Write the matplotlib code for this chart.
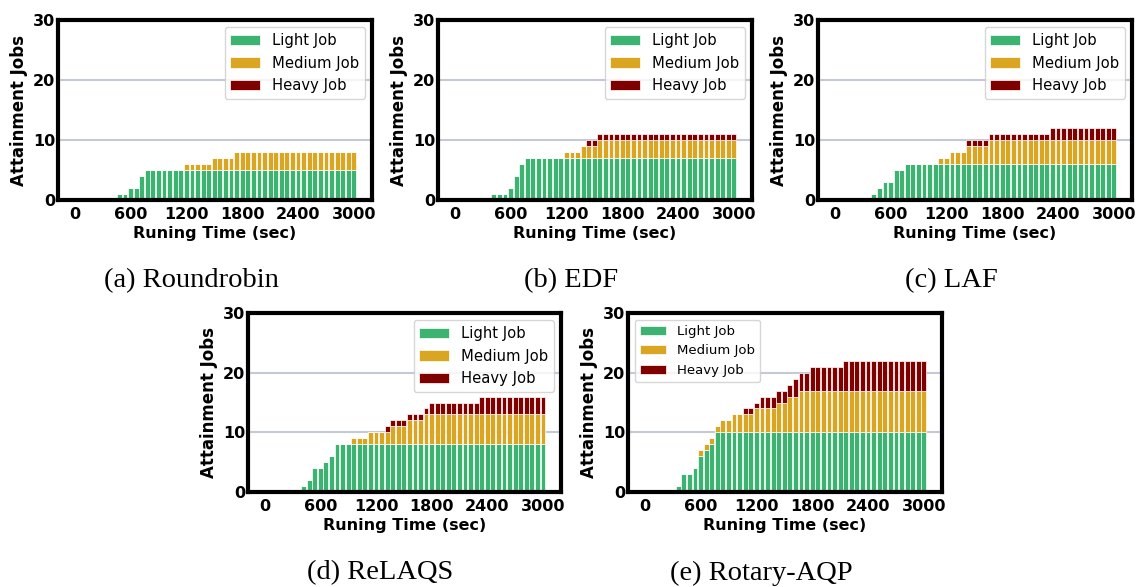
import numpy as np
import matplotlib.pyplot as plt

# sampling instants (sec)
times = np.arange(60, 3001, 60)

# attained jobs per scheduler, rows of 10 samples
rr_light = [0, 0, 0, 0, 0, 0, 0, 1, 1, 2,
            2, 4, 5, 5, 5, 5, 5, 5, 5, 5,
            5, 5, 5, 5, 5, 5, 5, 5, 5, 5,
            5, 5, 5, 5, 5, 5, 5, 5, 5, 5,
            5, 5, 5, 5, 5, 5, 5, 5, 5, 5]
rr_medium = [0, 0, 0, 0, 0, 0, 0, 0, 0, 0,
             0, 0, 0, 0, 0, 0, 0, 0, 0, 1,
             1, 1, 1, 1, 2, 2, 2, 2, 3, 3,
             3, 3, 3, 3, 3, 3, 3, 3, 3, 3,
             3, 3, 3, 3, 3, 3, 3, 3, 3, 3]
rr_heavy = [0] * 50

edf_light = [0, 0, 0, 0, 0, 0, 1, 1, 1, 2,
             4, 6, 7, 7, 7, 7, 7, 7, 7, 7,
             7, 7, 7, 7, 7, 7, 7, 7, 7, 7,
             7, 7, 7, 7, 7, 7, 7, 7, 7, 7,
             7, 7, 7, 7, 7, 7, 7, 7, 7, 7]
edf_medium = [0, 0, 0, 0, 0, 0, 0, 0, 0, 0,
              0, 0, 0, 0, 0, 0, 0, 0, 0, 1,
              1, 1, 2, 2, 2, 3, 3, 3, 3, 3,
              3, 3, 3, 3, 3, 3, 3, 3, 3, 3,
              3, 3, 3, 3, 3, 3, 3, 3, 3, 3]
edf_heavy = [0, 0, 0, 0, 0, 0, 0, 0, 0, 0,
             0, 0, 0, 0, 0, 0, 0, 0, 0, 0,
             0, 0, 0, 1, 1, 1, 1, 1, 1, 1,
             1, 1, 1, 1, 1, 1, 1, 1, 1, 1,
             1, 1, 1, 1, 1, 1, 1, 1, 1, 1]

laf_light = [0, 0, 0, 0, 0, 0, 1, 2, 3, 3,
             5, 5, 6, 6, 6, 6, 6, 6, 6, 6,
             6, 6, 6, 6, 6, 6, 6, 6, 6, 6,
             6, 6, 6, 6, 6, 6, 6, 6, 6, 6,
             6, 6, 6, 6, 6, 6, 6, 6, 6, 6]
laf_medium = [0, 0, 0, 0, 0, 0, 0, 0, 0, 0,
              0, 0, 0, 0, 0, 0, 0, 0, 1, 1,
              2, 2, 2, 3, 3, 3, 3, 4, 4, 4,
              4, 4, 4, 4, 4, 4, 4, 4, 4, 4,
              4, 4, 4, 4, 4, 4, 4, 4, 4, 4]
laf_heavy = [0, 0, 0, 0, 0, 0, 0, 0, 0, 0,
             0, 0, 0, 0, 0, 0, 0, 0, 0, 0,
             0, 0, 0, 1, 1, 1, 1, 1, 1, 1,
             1, 1, 1, 1, 1, 1, 1, 1, 2, 2,
             2, 2, 2, 2, 2, 2, 2, 2, 2, 2]

relaqs_light = [0, 0, 0, 0, 0, 0, 1, 2, 4, 4,
                5, 6, 8, 8, 8, 8, 8, 8, 8, 8,
                8, 8, 8, 8, 8, 8, 8, 8, 8, 8,
                8, 8, 8, 8, 8, 8, 8, 8, 8, 8,
                8, 8, 8, 8, 8, 8, 8, 8, 8, 8]
relaqs_medium = [0, 0, 0, 0, 0, 0, 0, 0, 0, 0,
                 0, 0, 0, 0, 0, 1, 1, 1, 2, 2,
                 2, 2, 3, 3, 3, 4, 4, 4, 5, 5,
                 5, 5, 5, 5, 5, 5, 5, 5, 5, 5,
                 5, 5, 5, 5, 5, 5, 5, 5, 5, 5]
relaqs_heavy = [0, 0, 0, 0, 0, 0, 0, 0, 0, 0,
                0, 0, 0, 0, 0, 0, 0, 0, 0, 0,
                0, 1, 1, 1, 1, 1, 1, 1, 1, 2,
                2, 2, 2, 2, 2, 2, 2, 2, 3, 3,
                3, 3, 3, 3, 3, 3, 3, 3, 3, 3]

rotary_light = [0, 0, 0, 0, 0, 1, 3, 3, 4, 6,
                7, 8, 10, 10, 10, 10, 10, 10, 10, 10,
                10, 10, 10, 10, 10, 10, 10, 10, 10, 10,
                10, 10, 10, 10, 10, 10, 10, 10, 10, 10,
                10, 10, 10, 10, 10, 10, 10, 10, 10, 10]
rotary_medium = [0, 0, 0, 0, 0, 0, 0, 0, 0, 1,
                 1, 1, 1, 2, 2, 3, 3, 3, 3, 4,
                 4, 4, 4, 5, 5, 6, 6, 7, 7, 7,
                 7, 7, 7, 7, 7, 7, 7, 7, 7, 7,
                 7, 7, 7, 7, 7, 7, 7, 7, 7, 7]
rotary_heavy = [0, 0, 0, 0, 0, 0, 0, 0, 0, 0,
                0, 0, 0, 0, 0, 0, 0, 1, 1, 1,
                2, 2, 2, 2, 2, 2, 3, 3, 3, 4,
                4, 4, 4, 4, 4, 5, 5, 5, 5, 5,
                5, 5, 5, 5, 5, 5, 5, 5, 5, 5]

captions = ['(a) Roundrobin', '(b) EDF', '(c) LAF', '(d) ReLAQS', '(e) Rotary-AQP']
xticks = [0, 600, 1200, 1800, 2400, 3000]
labels = ['Light Job', 'Medium Job', 'Heavy Job']
colors = ['#3cb371', '#daa520', '#800000']

panels = [
    (rr_light, rr_medium, rr_heavy),
    (edf_light, edf_medium, edf_heavy),
    (laf_light, laf_medium, laf_heavy),
    (relaqs_light, relaqs_medium, relaqs_heavy),
    (rotary_light, rotary_medium, rotary_heavy),
]

W, H = 1141, 587
# axes boxes in pixels: left, top, right, bottom
boxes = [
    (58, 20, 372, 200),
    (438, 20, 752, 200),
    (818, 20, 1132, 200),
    (248, 313, 561, 492),
    (628, 313, 942, 492),
]
caption_y = [281, 281, 281, 573, 573]
legend_loc = ['upper right'] * 4 + ['upper left']
legend_size = [10.6, 10.6, 10.6, 10.6, 9.5]

fig = plt.figure(figsize=(W / 100, H / 100), dpi=100)

for i, (light, medium, heavy) in enumerate(panels):
    l, t, r, b = boxes[i]
    ax = fig.add_axes([l / W, 1 - b / H, (r - l) / W, (b - t) / H])

    light = np.array(light)
    medium = np.array(medium)
    heavy = np.array(heavy)
    bottoms = [0, light, light + medium]
    for vals, bot, c, lab in zip([light, medium, heavy], bottoms, colors, labels):
        ax.bar(times, vals, bottom=bot, width=52, color=c, edgecolor='white',
               linewidth=0.5, label=lab)

    ax.set_xlim(-180, 3195)
    ax.set_ylim(0, 30)
    ax.set_xticks(xticks)
    ax.set_yticks([0, 10, 20, 30])
    ax.tick_params(length=0, labelsize=11.5)
    ax.tick_params(axis='y', pad=2)
    ax.tick_params(axis='x', pad=5)
    for tl in ax.get_xticklabels() + ax.get_yticklabels():
        tl.set_fontweight('bold')

    ax.yaxis.grid(True, color='#c3cad6', linewidth=1.5)
    ax.set_axisbelow(True)
    for sp in ax.spines.values():
        sp.set_linewidth(3)
        sp.set_color('black')

    ax.set_xlabel('Runing Time (sec)', fontsize=11.5, fontweight='bold')
    ax.set_ylabel('Attainment Jobs', fontsize=12, fontweight='bold')
    ax.xaxis.set_label_coords(0.5, -0.145)
    ax.yaxis.set_label_coords(-0.095, 0.5)

    ax.legend(loc=legend_loc[i], fontsize=legend_size[i], framealpha=0.8)

    cx = ((l - 48) + r) / 2
    fig.text(cx / W, 1 - caption_y[i] / H, captions[i], ha='center', va='center',
             fontsize=20.5, family='Liberation Serif')

fig.savefig('out.png', dpi=100)
